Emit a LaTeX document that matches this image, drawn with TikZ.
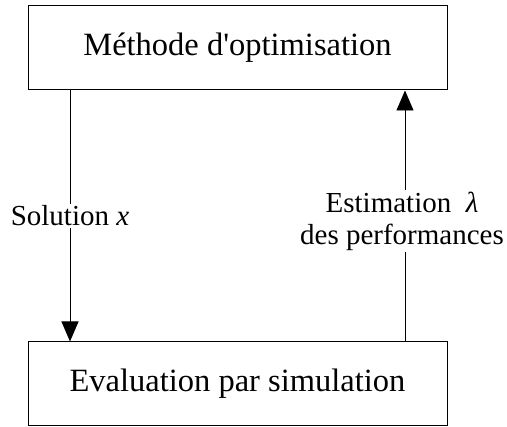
\documentclass[tikz,border=0pt]{standalone}
\usepackage{fontspec}
\setmainfont{Liberation Serif}
\newfontfamily\tnr{Liberation Serif}
\usetikzlibrary{arrows.meta}
\begin{document}
\begin{tikzpicture}[x=1pt,y=1pt,
  box/.style={draw,line width=1pt,minimum width=419pt,minimum height=84pt,inner sep=0pt,font=\tnr\fontsize{32.5}{36}\selectfont},
  conn/.style={line width=0.9pt,-{Triangle[length=20pt,width=17pt]}},
  lbl/.style={fill=white,inner sep=2pt,align=center,font=\tnr\fontsize{29}{32}\selectfont}]
\useasboundingbox (0,0) rectangle (507,427);
\node[box] (top) at (237.5,379) {Méthode d'optimisation};
\node[box] (bot) at (237.5,43) {Evaluation par simulation};
\coordinate (lx) at (70,0);
\coordinate (rx) at (405,0);
\draw[conn] (top.south -| lx) -- (bot.north -| lx);
\draw[conn] (bot.north -| rx) -- (top.south -| rx);
\node[lbl] (sol) at (70,211) {Solution \textit{x}};
\node[lbl] (est) at (402,206) {Estimation\ \ \textit{λ}\\des performances};
\end{tikzpicture}
\end{document}
